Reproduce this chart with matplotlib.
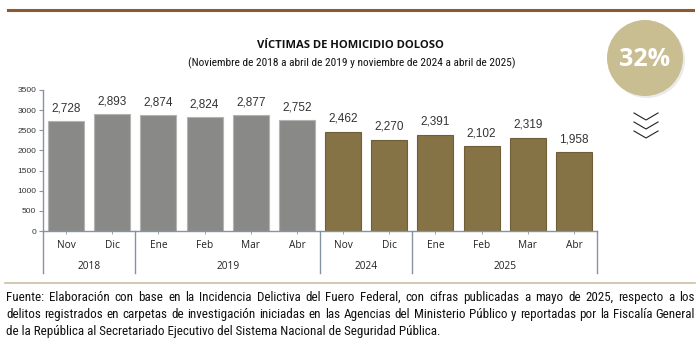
import matplotlib
matplotlib.use("Agg")
import matplotlib.pyplot as plt
from matplotlib import font_manager
from matplotlib.lines import Line2D
from matplotlib.patches import Ellipse
from matplotlib.transforms import blended_transform_factory

# Data
months = ["Nov", "Dic", "Ene", "Feb", "Mar", "Abr", "Nov", "Dic", "Ene", "Feb", "Mar", "Abr"]
values = [2728, 2893, 2874, 2824, 2877, 2752, 2462, 2270, 2391, 2102, 2319, 1958]
years = ["2018", "2019", "2024", "2025"]
year_spans = [(0, 2), (2, 6), (6, 8), (8, 12)]
period = ["old"] * 6 + ["new"] * 6
yticks = [0, 500, 1000, 1500, 2000, 2500, 3000, 3500]

title = "VÍCTIMAS DE HOMICIDIO DOLOSO"
subtitle = "(Noviembre de 2018 a abril de 2019 y noviembre de 2024 a abril de 2025)"
badge = "32%"
footer_lines = [
    "Fuente: Elaboración con base en la Incidencia Delictiva del Fuero Federal, con cifras publicadas a mayo de 2025, respecto a los",
    "delitos registrados en carpetas de investigación iniciadas en las Agencias del Ministerio Público y reportadas por la Fiscalía General",
    "de la República al Secretariado Ejecutivo del Sistema Nacional de Seguridad Pública.",
]

COLORS = {"old": "#898987", "new": "#857346"}
EDGES = {"old": "#b4b4b2", "new": "#6e5f38"}
AXIS = "#8593a3"


def first_font(names):
    for n in names:
        try:
            font_manager.findfont(font_manager.FontProperties(family=n),
                                  fallback_to_default=False)
            return n
        except Exception:
            continue
    return "DejaVu Sans"


NARROW = first_font(["Liberation Sans Narrow", "DejaVu Sans Condensed", "Roboto Condensed",
                     "Open Sans Condensed", "Liberation Sans"])
SANS = first_font(["Open Sans", "Noto Sans", "DejaVu Sans"])
ARIAL = first_font(["Liberation Sans", "DejaVu Sans"])

W, H = 700, 353
fig = plt.figure(figsize=(7, 3.53), dpi=100)


def px(x, y):
    """pixel coords (top-left origin) -> figure fraction"""
    return x / W, 1 - y / H


# top rule
fig.add_artist(Line2D([8 / W, 693 / W], [1 - 10 / H] * 2, color="#8b5a2e", lw=2.2,
                      transform=fig.transFigure))
# footer rule
fig.add_artist(Line2D([5 / W, 695 / W], [1 - 283 / H] * 2, color="#cdbfa6", lw=1.2,
                      transform=fig.transFigure))

fig.canvas.draw()
renderer = fig.canvas.get_renderer()


def fitted_text(cx, cy, s, width, size, **kw):
    t = fig.text(*px(cx, cy), s, ha="center", va="center", fontsize=size, **kw)
    w = t.get_window_extent(renderer).width
    if w > width:
        t.set_fontsize(size * width / w)
    return t


fitted_text(350, 46, title, 188, 9.8, fontweight="bold", family=SANS, color="#111111")
fitted_text(352, 63, subtitle, 326, 8.2, family=NARROW, color="#111111")

# main axes
ax = fig.add_axes([43 / W, 122 / H, 554 / W, 141 / H])
x = list(range(len(values)))
ax.bar(x, values, width=0.78,
       color=[COLORS[p] for p in period],
       edgecolor=[EDGES[p] for p in period], linewidth=0.8)
for xi, v in zip(x, values):
    ax.annotate(f"{v:,}", (xi, v), xytext=(0, 5), textcoords="offset points",
                ha="center", va="bottom", fontsize=8.5, color="#333333", family=ARIAL)

ax.set_xlim(-0.5, len(values) - 0.5)
ax.set_ylim(0, 3500)
ax.set_yticks(yticks)
ax.set_yticklabels([str(t) for t in yticks], fontsize=6, color="#333333", family=ARIAL)
ax.tick_params(axis="y", length=3, width=0.8, color=AXIS, pad=2)
ax.set_xticks(x)
ax.set_xticklabels([])
ax.tick_params(axis="x", length=2.5, width=0.6, color=AXIS)
for s in ["top", "right"]:
    ax.spines[s].set_visible(False)
for s in ["left", "bottom"]:
    ax.spines[s].set_color(AXIS)
    ax.spines[s].set_linewidth(1.0)

tr = blended_transform_factory(ax.transData, ax.transAxes)
for xi, m in zip(x, months):
    ax.text(xi, -0.106, m, transform=tr, ha="center", va="center", fontsize=7.3,
            family=SANS, color="#222222")
for yr, (a, b) in zip(years, year_spans):
    ax.text((a + b - 1) / 2, -0.255, yr, transform=tr, ha="center", va="center",
            fontsize=7.3, family=SANS, color="#222222")
bounds = [a - 0.5 for a, _ in year_spans] + [year_spans[-1][1] - 0.5]
for bx in bounds:
    ax.add_line(Line2D([bx, bx], [0, -0.30], transform=tr, color=AXIS, lw=1.0,
                       clip_on=False))

# badge circle with soft shadow
cx, cy = px(645, 58)
fig.add_artist(Ellipse((cx + 2 / W, cy - 2 / H), 76 / W, 76 / H, transform=fig.transFigure,
                       facecolor="#dcdcdc", edgecolor="none", alpha=0.6))
fig.add_artist(Ellipse((cx, cy), 76 / W, 76 / H, transform=fig.transFigure,
                       facecolor="#c9bd92", edgecolor="none"))
fig.text(cx, cy - 2 / H, badge, ha="center", va="center", fontsize=18, fontweight="bold",
         family=SANS, color="white")

# chevrons
for tip in [120, 129, 138]:
    xs = [634 / W, 646 / W, 658 / W]
    ys = [1 - (tip - 7) / H, 1 - tip / H, 1 - (tip - 7) / H]
    fig.add_artist(Line2D(xs, ys, color="#222222", lw=0.8, transform=fig.transFigure))

# justified footer text
left, right = 6, 695
fs = 8.6
# size the font so the last (unjustified) line ends where it does in the reference
probe = fig.text(0, 0, footer_lines[2], fontsize=fs, family=NARROW)
pw = probe.get_window_extent(renderer).width
probe.remove()
fs = fs * 432 / pw
# but make sure the longest line still fits
probe = fig.text(0, 0, footer_lines[1], fontsize=fs, family=NARROW)
pw = probe.get_window_extent(renderer).width
probe.remove()
if pw > (right - left) * 0.99:
    fs = fs * (right - left) * 0.99 / pw

for i, line in enumerate(footer_lines):
    y = 1 - (301 + i * 16.8) / H   # baseline
    words = line.split(" ")
    if i == len(footer_lines) - 1:
        fig.text(left / W, y, line, ha="left", va="baseline", fontsize=fs, family=NARROW,
                 color="#111111")
        continue
    arts = [fig.text(0, y, w_, ha="left", va="baseline", fontsize=fs, family=NARROW,
                     color="#111111") for w_ in words]
    widths = [a.get_window_extent(renderer).width for a in arts]
    gap = (right - left - sum(widths)) / (len(words) - 1)
    pos = left
    for a, wdt in zip(arts, widths):
        a.set_x(pos / W)
        pos += wdt + gap

fig.savefig("out.png", dpi=100)
